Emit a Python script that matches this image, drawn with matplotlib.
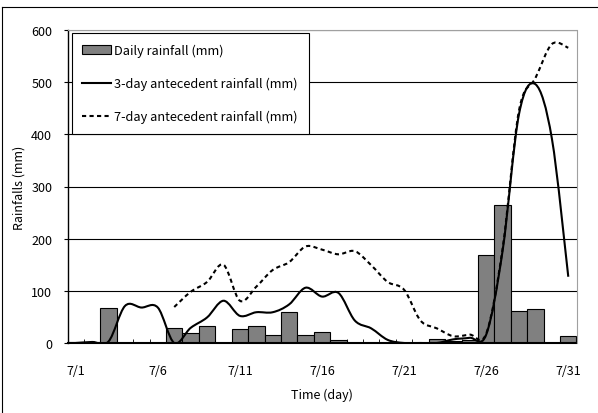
import numpy as np
import matplotlib.pyplot as plt
from matplotlib.path import Path
from matplotlib.patches import PathPatch, Patch
from matplotlib.lines import Line2D

plt.rcParams['font.family'] = ['Noto Sans CJK KR', 'DejaVu Sans']

# days of July
days = list(range(1, 32))
tick_days = [1, 6, 11, 16, 21, 26, 31]
tick_labels = ["7/1", "7/6", "7/11", "7/16", "7/21", "7/26", "7/31"]

# daily rainfall (mm)
daily = [2, 1, 68, 0, 0, 0, 29, 20, 32, 0, 27, 32, 15, 59, 15, 22, 6, 0, 0, 0,
         0, 0, 7, 3, 6, 168, 265, 62, 65, 0, 13]
# 3-day antecedent rainfall (mm), 7/1 - 7/31
rain3 = [0, 2, 3, 71, 68, 68, 0, 29, 49, 81, 52, 59, 59, 74, 106, 89, 96, 43,
         28, 6, 0, 0, 0, 7, 10, 16, 177, 439, 496, 392, 127]
# 7-day antecedent rainfall (mm), 7/7 - 7/31
days7 = list(range(7, 32))
rain7 = [69, 98, 117, 150, 81, 108, 140, 155, 185, 179, 170, 176, 149, 117,
         102, 43, 28, 13, 16, 18, 181, 446, 508, 573, 566]


def smooth_path(x, y):
    # Excel-style smoothed line: bezier with catmull-rom control points
    x = np.asarray(x, float)
    y = np.asarray(y, float)
    verts = [(x[0], y[0])]
    codes = [Path.MOVETO]
    n = len(x)
    for i in range(n - 1):
        x0, y0 = (x[i - 1], y[i - 1]) if i > 0 else (x[i], y[i])
        x3, y3 = (x[i + 2], y[i + 2]) if i + 2 < n else (x[i + 1], y[i + 1])
        c1 = (x[i] + (x[i + 1] - x0) / 6, y[i] + (y[i + 1] - y0) / 6)
        c2 = (x[i + 1] - (x3 - x[i]) / 6, y[i + 1] - (y3 - y[i]) / 6)
        verts += [c1, c2, (x[i + 1], y[i + 1])]
        codes += [Path.CURVE4] * 3
    return Path(verts, codes)


fig = plt.figure(figsize=(5.98, 4.14), dpi=100)
ax = fig.add_axes([67.5 / 598, 1 - 344 / 414, (576.5 - 67.5) / 598, 313 / 414])

ax.bar(days, daily, width=1.0, color="#808080", edgecolor="black", linewidth=0.8, zorder=2)
ax.add_patch(PathPatch(smooth_path(days, rain3), fill=False, edgecolor="black",
                       linewidth=1.5, zorder=3))
ax.add_patch(PathPatch(smooth_path(days7, rain7), fill=False, edgecolor="black",
                       linewidth=1.5, linestyle=(0, (2, 1.6)), zorder=3))

ax.set_xlim(0.5, 31.5)
ax.set_ylim(0, 600)
ax.set_yticks(range(0, 601, 100))
ax.yaxis.grid(True, color="black", linewidth=0.8, zorder=0)
ax.set_axisbelow(True)
ax.tick_params(axis="y", direction="out", length=3, labelsize=9, pad=8)

ax.set_xticks(tick_days)
ax.set_xticklabels(tick_labels)
ax.set_xticks(np.arange(0.5, 32, 1), minor=True)
ax.tick_params(axis="x", which="major", length=0, labelsize=9, pad=15)
ax.tick_params(axis="x", which="minor", direction="in", length=3)

for s in ["top", "right"]:
    ax.spines[s].set_color("#a0a0a0")
    ax.spines[s].set_zorder(4)
ax.spines["left"].set_linewidth(1.0)
ax.spines["bottom"].set_linewidth(1.5)

ax.set_xlabel("Time (day)", fontsize=9, labelpad=8)
ax.set_ylabel("Rainfalls (mm)", fontsize=9, labelpad=4)

handles = [
    Patch(facecolor="#808080", edgecolor="black", linewidth=0.8),
    Line2D([], [], color="black", linewidth=1.5),
    Line2D([], [], color="black", linewidth=1.5, linestyle=(0, (2, 1.6))),
]
labels = ["Daily rainfall (mm)", "3-day antecedent rainfall (mm)",
          "7-day antecedent rainfall (mm)"]
leg = ax.legend(handles, labels, loc="upper left", bbox_to_anchor=(0.008, 0.99),
                fontsize=9.2, fancybox=False, framealpha=1, edgecolor="black",
                borderpad=0.85, labelspacing=1.55, handlelength=2.2, handletextpad=0.3,
                borderaxespad=0)
leg.get_frame().set_linewidth(0.8)

# outer frame
fig.add_artist(Line2D([2 / 598, 2 / 598], [0, 1 - 8 / 414], color="black", linewidth=0.8,
                      transform=fig.transFigure))
fig.add_artist(Line2D([2 / 598, 1], [1 - 8 / 414, 1 - 8 / 414], color="black", linewidth=0.8,
                      transform=fig.transFigure))

fig.savefig("out.png", dpi=100)
